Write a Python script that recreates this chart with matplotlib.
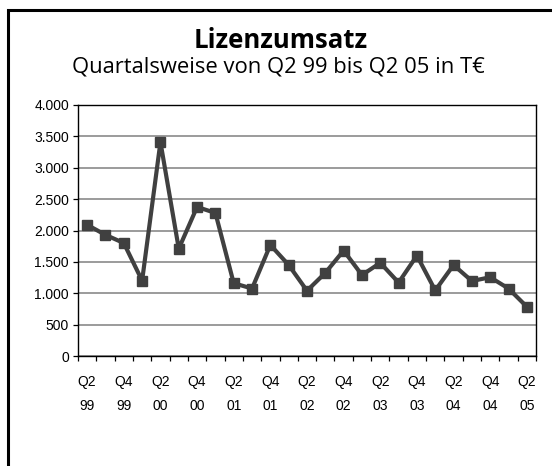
import matplotlib
matplotlib.use('Agg')
import matplotlib.pyplot as plt
from matplotlib.patches import Rectangle
from matplotlib.ticker import FuncFormatter, MultipleLocator

# Lizenzumsatz je Quartal, Q2 99 .. Q2 05 (T€)
QUARTERS = ['Q2 99', 'Q3 99', 'Q4 99', 'Q1 00', 'Q2 00', 'Q3 00', 'Q4 00', 'Q1 01',
            'Q2 01', 'Q3 01', 'Q4 01', 'Q1 02', 'Q2 02', 'Q3 02', 'Q4 02', 'Q1 03',
            'Q2 03', 'Q3 03', 'Q4 03', 'Q1 04', 'Q2 04', 'Q3 04', 'Q4 04', 'Q1 05',
            'Q2 05']
UMSATZ = [2090, 1930, 1800, 1200, 3410, 1710, 2375, 2280,
          1160, 1075, 1770, 1450, 1040, 1325, 1680, 1290,
          1485, 1170, 1600, 1045, 1450, 1195, 1255, 1075,
          785]

TITLE = 'Lizenzumsatz'
SUBTITLE = 'Quartalsweise von Q2 99 bis Q2 05 in T€'

LINE_CLR = '#404040'
GRID_CLR = '#808080'
TITLE_FONT = ['Open Sans', 'DejaVu Sans']
TICK_FONT = ['Liberation Sans', 'DejaVu Sans']

fig = plt.figure(figsize=(5.52, 4.66), dpi=100)

# Rahmen um das ganze Diagramm (rechts/unten abgeschnitten)
fig.patches.append(Rectangle((8 / 552, -0.1), 1.2, 1 - 10 / 466 + 0.1,
                             transform=fig.transFigure, fill=False,
                             edgecolor='black', linewidth=2.2))

ax = fig.add_axes([78 / 552, 1 - 356 / 466, 458 / 552, 251 / 466])

xs = list(range(len(UMSATZ)))
ax.plot(xs, UMSATZ, color=LINE_CLR, linewidth=3, marker='s', markersize=7.5,
        markerfacecolor=LINE_CLR, markeredgecolor=LINE_CLR, zorder=3)

ax.set_xlim(-0.5, len(UMSATZ) - 0.5)
ax.set_ylim(0, 4000)

ax.yaxis.set_major_locator(MultipleLocator(500))
ax.yaxis.set_major_formatter(FuncFormatter(lambda v, _: f'{int(v):,}'.replace(',', '.')))
ax.grid(axis='y', color=GRID_CLR, linewidth=1.1)
ax.set_axisbelow(True)

# Ticks an den Kategoriegrenzen, Beschriftung jedes zweite Quartal
ax.set_xticks([i - 0.5 for i in range(len(UMSATZ) + 1)])
ax.set_xticklabels([])
ax.set_xticks(xs[::2], minor=True)
ax.set_xticklabels([q.replace(' ', '\n') for q in QUARTERS[::2]], minor=True,
                   family=TICK_FONT, fontsize=10, linespacing=1.9)
ax.tick_params(axis='x', which='minor', length=0, pad=14)
ax.tick_params(axis='x', which='major', length=3.5, width=0.9, direction='out')
ax.tick_params(axis='y', length=3.5, width=0.9, direction='out', pad=3)
for lbl in ax.get_yticklabels():
    lbl.set_family(TICK_FONT)
    lbl.set_fontsize(10)

for side in ['left', 'bottom', 'right', 'top']:
    ax.spines[side].set_color('black')
    ax.spines[side].set_linewidth(1.0)

fig.text(0.509, 1 - 41 / 466, TITLE, ha='center', va='center',
         family=TITLE_FONT, fontsize=18.5, fontweight='bold')
fig.text(0.504, 1 - 67 / 466, SUBTITLE, ha='center', va='center',
         family=TITLE_FONT, fontsize=15.8)

fig.savefig('out.png', dpi=100)
